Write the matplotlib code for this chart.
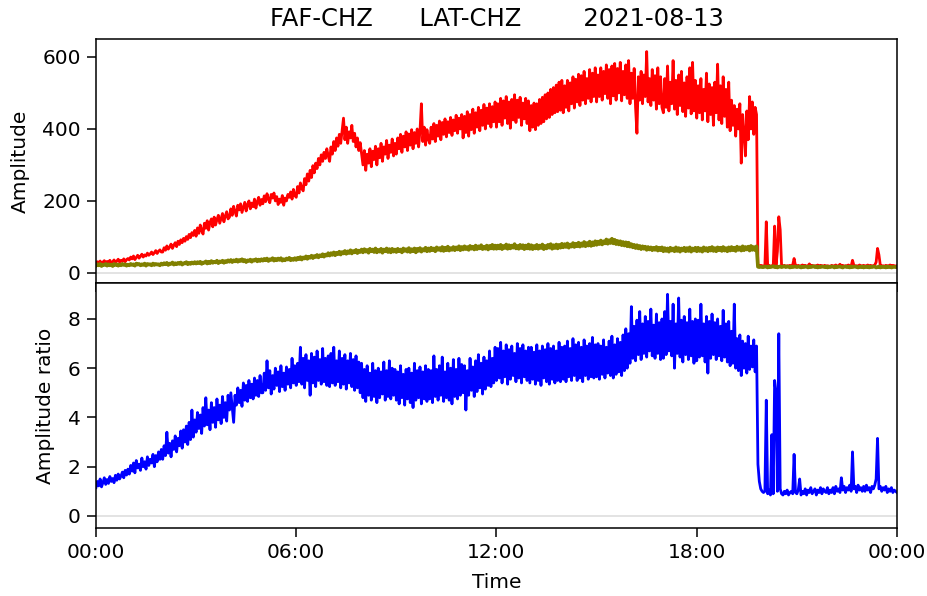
import matplotlib
matplotlib.use("Agg")
import matplotlib.pyplot as plt
import matplotlib.dates as mdates
import pandas as pd

# 2.5-minute samples, one row per hour (24 values), plus the final 00:00 sample
amp_faf = [
    25, 31, 28, 33, 24, 30, 34, 27, 32, 29, 35, 26, 31, 36, 29, 33, 38, 30, 35, 32, 39, 31, 37, 40,
    36, 44, 39, 47, 37, 43, 49, 41, 46, 52, 44, 50, 47, 55, 49, 53, 58, 51, 56, 62, 54, 60, 64, 58,
    58, 70, 63, 75, 66, 72, 80, 68, 77, 84, 73, 88, 79, 92, 84, 96, 88, 101, 93, 107, 98, 112, 104, 118,
    102, 125, 110, 133, 118, 108, 138, 124, 145, 119, 140, 150, 128, 155, 133, 148, 160, 138, 152, 165, 142, 158, 170, 150,
    155, 178, 160, 185, 170, 158, 188, 175, 192, 168, 182, 196, 172, 190, 200, 178, 194, 184, 205, 180, 198, 210, 188, 204,
    192, 214, 198, 220, 205, 195, 218, 208, 222, 200, 212, 190, 205, 196, 215, 188, 208, 200, 218, 210, 225, 205, 232, 215,
    210, 240, 222, 250, 235, 228, 262, 245, 275, 255, 285, 265, 298, 278, 305, 290, 318, 300, 328, 310, 335, 318, 345, 325,
    310, 350, 330, 365, 340, 375, 352, 385, 360, 395, 430, 370, 405, 360, 392, 375, 410, 365, 388, 350, 375, 340, 362, 330,
    300, 340, 285, 330, 305, 345, 295, 338, 315, 352, 300, 345, 320, 360, 310, 350, 330, 368, 318, 355, 335, 372, 325, 360,
    330, 375, 345, 385, 335, 380, 350, 392, 340, 386, 355, 398, 345, 390, 360, 400, 350, 395, 470, 365, 405, 355, 398, 372,
    360, 405, 372, 415, 365, 410, 380, 422, 370, 418, 385, 428, 378, 420, 390, 432, 382, 425, 395, 438, 388, 430, 400, 440,
    375, 435, 390, 448, 380, 440, 398, 455, 388, 445, 405, 460, 395, 452, 410, 468, 400, 458, 415, 470, 405, 462, 420, 475,
    405, 470, 420, 485, 410, 478, 430, 490, 415, 475, 402, 482, 425, 495, 418, 480, 432, 488, 410, 472, 428, 485, 415, 478,
    395, 465, 405, 472, 398, 470, 410, 482, 415, 488, 420, 495, 428, 500, 432, 510, 440, 515, 445, 522, 448, 530, 452, 535,
    445, 520, 460, 535, 450, 528, 470, 545, 458, 538, 475, 552, 465, 548, 480, 560, 470, 540, 485, 565, 475, 555, 490, 570,
    475, 550, 490, 570, 480, 560, 498, 578, 485, 565, 470, 575, 492, 582, 480, 568, 500, 585, 478, 560, 495, 578, 485, 590,
    470, 555, 485, 568, 460, 388, 545, 480, 560, 470, 550, 490, 615, 475, 540, 465, 565, 480, 548, 455, 570, 470, 545, 460,
    445, 540, 460, 575, 450, 530, 470, 590, 455, 535, 440, 550, 465, 560, 448, 528, 435, 545, 458, 570, 442, 585, 450, 535,
    430, 520, 445, 540, 425, 510, 450, 555, 420, 525, 440, 515, 410, 530, 445, 580, 425, 520, 415, 545, 435, 510, 405, 530,
    395, 480, 410, 465, 380, 455, 400, 470, 305, 440, 390, 325, 450, 370, 490, 400, 475, 385, 460, 440, 22, 19, 21, 20,
    18, 20, 142, 19, 21, 18, 20, 19, 130, 21, 60, 156, 120, 20, 19, 21, 18, 20, 19, 21, 18, 22, 40, 20,
    19, 21, 18, 20, 22, 19, 21, 18, 20, 25, 19, 21, 18, 20, 19, 22, 18, 21, 20, 19, 21, 18, 20, 19,
    18, 21, 19, 20, 22, 18, 20, 24, 19, 21, 18, 20, 19, 22, 20, 18, 35, 21, 19, 20, 18, 22, 20, 19,
    21, 19, 20, 22, 18, 21, 19, 20, 22, 30, 68, 50, 21, 19, 20, 18, 21, 19, 20, 22, 19, 21, 20, 19,
    20,
]

amp_lat = [
    20, 24, 21, 25, 19, 23, 22, 25, 20, 24, 21, 23, 19, 25, 22, 24, 20, 23, 21, 25, 22, 24, 20, 23,
    21, 25, 22, 24, 20, 26, 23, 25, 21, 24, 22, 26, 20, 25, 23, 24, 21, 26, 22, 25, 23, 24, 21, 26,
    23, 27, 24, 28, 22, 26, 25, 29, 23, 27, 24, 28, 25, 29, 23, 27, 26, 30, 24, 28, 25, 29, 26, 30,
    26, 30, 27, 31, 25, 29, 28, 32, 26, 31, 27, 33, 28, 31, 29, 34, 27, 32, 30, 34, 28, 33, 30, 35,
    31, 36, 30, 35, 32, 37, 31, 36, 33, 38, 32, 36, 30, 35, 33, 37, 31, 36, 34, 38, 32, 37, 33, 38,
    34, 39, 35, 40, 33, 38, 36, 41, 34, 39, 35, 40, 36, 41, 34, 38, 35, 40, 37, 42, 35, 39, 36, 41,
    36, 42, 38, 44, 37, 43, 40, 46, 39, 45, 42, 48, 41, 47, 44, 50, 43, 49, 46, 52, 45, 51, 48, 55,
    48, 55, 50, 57, 49, 56, 52, 59, 51, 58, 54, 61, 53, 60, 55, 63, 54, 61, 57, 64, 55, 62, 58, 65,
    57, 66, 59, 64, 56, 67, 60, 65, 58, 68, 57, 64, 59, 67, 56, 65, 60, 68, 58, 66, 57, 67, 59, 65,
    58, 67, 60, 65, 57, 68, 61, 66, 59, 69, 58, 66, 60, 68, 57, 67, 61, 69, 59, 66, 62, 70, 60, 68,
    61, 70, 63, 68, 60, 71, 64, 69, 62, 72, 61, 70, 63, 73, 62, 69, 64, 72, 63, 71, 65, 74, 63, 72,
    65, 74, 66, 72, 64, 75, 67, 73, 65, 76, 66, 74, 68, 77, 66, 73, 67, 76, 65, 75, 68, 78, 67, 76,
    67, 76, 68, 78, 66, 75, 69, 79, 67, 77, 68, 76, 70, 80, 68, 75, 67, 78, 69, 77, 66, 76, 68, 79,
    67, 77, 66, 75, 68, 78, 67, 76, 69, 79, 66, 75, 68, 78, 70, 80, 67, 77, 69, 79, 68, 78, 70, 81,
    71, 80, 72, 82, 70, 79, 73, 83, 72, 81, 74, 84, 73, 82, 75, 86, 74, 83, 76, 87, 75, 85, 77, 88,
    78, 87, 80, 90, 79, 88, 82, 93, 81, 91, 83, 95, 82, 92, 80, 89, 79, 88, 77, 86, 76, 85, 74, 84,
    73, 80, 71, 78, 69, 77, 68, 75, 66, 74, 67, 73, 64, 72, 65, 71, 63, 70, 64, 72, 62, 70, 63, 71,
    60, 69, 61, 68, 59, 70, 62, 68, 60, 71, 61, 69, 59, 68, 62, 70, 60, 69, 61, 71, 59, 68, 62, 70,
    60, 70, 61, 68, 59, 71, 62, 69, 60, 70, 62, 72, 61, 69, 60, 71, 63, 70, 61, 72, 62, 69, 60, 71,
    62, 72, 63, 70, 61, 73, 64, 71, 62, 74, 63, 72, 65, 73, 62, 75, 64, 72, 63, 74, 17, 16, 17, 16,
    16, 18, 17, 15, 18, 16, 17, 19, 16, 18, 15, 17, 18, 16, 17, 19, 16, 18, 17, 15, 18, 16, 17, 18,
    16, 17, 18, 15, 17, 16, 18, 17, 15, 18, 16, 17, 19, 16, 18, 15, 17, 16, 18, 17, 16, 18, 15, 17,
    16, 18, 17, 15, 18, 16, 17, 18, 16, 15, 17, 18, 16, 17, 15, 18, 16, 17, 18, 16, 15, 17, 16, 18,
    15, 17, 16, 18, 15, 17, 16, 18, 17, 15, 16, 18, 15, 17, 16, 17, 15, 18, 16, 17, 15, 16, 17, 16,
    16,
]

ratio = [
    1.15, 1.40, 1.22, 1.50, 1.18, 1.35, 1.55, 1.28, 1.48, 1.32, 1.60, 1.40, 1.52, 1.35, 1.65, 1.45, 1.70, 1.50, 1.62, 1.78, 1.55, 1.85, 1.66, 1.90,
    1.70, 2.05, 1.82, 2.15, 1.75, 2.25, 1.95, 2.10, 1.85, 2.35, 2.00, 2.20, 1.90, 2.40, 2.05, 2.30, 2.15, 2.50, 2.00, 2.45, 2.20, 2.60, 2.30, 2.70,
    2.30, 2.85, 2.45, 3.40, 2.55, 2.95, 2.40, 3.05, 2.70, 3.25, 2.60, 3.15, 2.85, 3.45, 2.75, 3.50, 3.00, 3.65, 2.90, 3.80, 3.10, 4.30, 3.20, 3.90,
    3.40, 4.20, 3.55, 4.10, 3.35, 4.40, 3.65, 4.80, 3.70, 4.30, 3.50, 4.60, 3.80, 4.40, 3.60, 4.75, 3.90, 4.50, 3.75, 4.85, 4.00, 4.60, 3.85, 4.90,
    4.30, 5.00, 4.40, 3.80, 4.90, 4.50, 5.20, 4.60, 5.10, 4.45, 5.40, 4.70, 5.30, 4.65, 5.50, 4.80, 5.35, 4.75, 5.60, 4.90, 5.50, 4.85, 5.70, 5.00,
    5.00, 5.80, 5.10, 6.30, 5.20, 5.90, 4.95, 5.70, 5.15, 6.00, 5.30, 5.85, 5.05, 6.10, 5.25, 5.80, 5.10, 6.05, 5.35, 5.95, 5.20, 6.40, 5.40, 6.10,
    5.30, 6.20, 5.45, 6.85, 5.35, 6.40, 5.20, 6.55, 5.50, 6.30, 4.90, 6.60, 5.40, 6.45, 5.25, 6.70, 5.50, 6.35, 5.35, 6.80, 5.45, 6.40, 5.30, 6.50,
    5.25, 6.60, 5.40, 6.85, 5.30, 6.30, 5.45, 6.70, 5.20, 6.40, 5.35, 6.55, 5.15, 6.30, 5.40, 6.60, 5.25, 6.35, 5.10, 6.50, 5.20, 6.25, 5.00, 6.20,
    4.80, 5.95, 4.65, 6.10, 4.90, 5.80, 4.70, 6.20, 4.85, 5.90, 4.60, 6.00, 4.80, 5.85, 4.95, 6.25, 4.70, 5.90, 4.85, 6.30, 4.75, 6.00, 4.90, 5.95,
    4.70, 5.85, 4.55, 6.10, 4.80, 5.75, 4.50, 5.95, 4.75, 6.00, 4.60, 5.80, 4.40, 6.20, 4.70, 5.90, 4.80, 6.05, 4.55, 5.85, 4.75, 6.10, 4.65, 5.95,
    4.75, 5.90, 4.60, 6.50, 4.85, 5.95, 4.70, 6.10, 4.90, 6.45, 4.65, 5.85, 4.80, 6.20, 4.70, 6.00, 4.55, 6.35, 4.85, 5.95, 4.75, 6.40, 4.90, 6.15,
    5.00, 6.10, 4.30, 5.90, 4.90, 6.40, 5.10, 6.05, 4.85, 6.30, 5.05, 6.55, 5.20, 6.20, 4.95, 6.45, 5.15, 6.30, 5.30, 6.70, 5.25, 6.40, 5.40, 6.85,
    5.50, 6.80, 5.60, 7.05, 5.40, 6.70, 5.65, 6.95, 5.35, 6.75, 5.55, 6.90, 5.70, 6.60, 5.45, 7.00, 5.60, 6.80, 5.40, 6.95, 5.65, 6.70, 5.50, 6.85,
    5.40, 6.85, 5.55, 6.65, 5.35, 6.95, 5.50, 6.70, 5.30, 6.90, 5.60, 6.75, 5.45, 7.00, 5.35, 6.80, 5.55, 6.90, 5.40, 6.70, 5.50, 7.05, 5.45, 6.85,
    5.55, 6.90, 5.45, 7.10, 5.65, 6.80, 5.50, 7.20, 5.70, 6.95, 5.50, 7.05, 5.60, 6.85, 5.45, 7.15, 5.70, 6.90, 5.55, 7.00, 5.65, 7.25, 5.60, 6.95,
    5.65, 7.00, 5.55, 6.90, 5.75, 7.15, 5.60, 6.85, 5.80, 7.10, 5.70, 7.30, 5.60, 6.95, 5.75, 7.20, 5.85, 7.05, 5.70, 7.35, 5.90, 7.60, 6.00, 7.40,
    6.20, 8.50, 6.40, 7.70, 6.30, 7.95, 6.55, 8.30, 6.35, 7.80, 6.60, 8.10, 6.45, 7.90, 6.70, 8.40, 6.50, 7.75, 6.40, 8.20, 6.60, 7.85, 6.35, 8.00,
    6.40, 8.30, 6.55, 9.00, 6.70, 7.90, 6.50, 8.60, 6.00, 7.80, 6.60, 8.85, 6.45, 7.95, 6.25, 8.10, 6.55, 7.85, 6.35, 8.40, 6.50, 7.90, 6.20, 8.00,
    6.30, 7.95, 6.45, 8.60, 6.50, 7.80, 6.25, 8.10, 5.80, 7.90, 6.40, 8.20, 6.55, 7.85, 6.35, 8.00, 6.50, 7.70, 6.30, 8.35, 6.45, 7.80, 6.25, 7.90,
    6.10, 7.50, 6.20, 8.60, 6.00, 7.20, 5.90, 7.35, 5.70, 7.10, 6.00, 7.00, 5.80, 7.30, 5.95, 6.90, 6.05, 7.15, 5.85, 6.90, 2.10, 1.40, 1.10, 1.00,
    0.95, 1.00, 4.70, 0.90, 1.05, 0.85, 3.30, 0.90, 5.50, 5.00, 1.00, 7.40, 1.10, 0.90, 0.85, 1.00, 0.90, 1.05, 0.85, 0.95, 1.00, 0.90, 2.50, 0.95,
    0.90, 1.05, 1.50, 0.85, 1.00, 0.90, 1.10, 0.85, 1.05, 0.95, 1.15, 0.90, 1.00, 1.10, 0.85, 1.05, 0.95, 1.15, 0.90, 1.10, 1.00, 0.95, 1.15, 0.90,
    1.05, 0.95, 1.15, 0.90, 1.20, 1.00, 1.10, 0.95, 1.55, 1.05, 1.20, 0.95, 1.15, 1.05, 1.25, 1.00, 2.60, 1.10, 1.20, 0.95, 1.25, 1.05, 1.15, 1.00,
    1.20, 1.00, 1.25, 1.05, 1.15, 0.95, 1.20, 1.10, 1.25, 1.50, 3.15, 1.10, 1.20, 1.00, 1.15, 1.05, 1.20, 0.95, 1.10, 1.00, 1.15, 0.95, 1.05, 1.00,
    0.95,
]

title = "FAF-CHZ      LAT-CHZ        2021-08-13"

times = pd.date_range("2021-08-13 00:00", periods=len(ratio), freq="150s")

fig = plt.figure(figsize=(9.28, 5.96), dpi=100)
ax1 = fig.add_axes([0.1034, 0.5252, 0.8632, 0.4094])
ax2 = fig.add_axes([0.1034, 0.1141, 0.8632, 0.4111], sharex=ax1)

lw = 2.0

ax1.axhline(0, color="0.87", lw=1.2, zorder=1)
ax1.plot(times, amp_faf, color="red", lw=lw)
ax1.plot(times, amp_lat, color="olive", lw=2.6)
ax1.set_ylim(-28, 650)
ax1.set_yticks([0, 200, 400, 600])
ax1.set_ylabel("Amplitude", fontsize=14.5, labelpad=9)
ax1.set_title(title, fontsize=17.5, pad=9)
ax1.tick_params(axis="x", length=0, labelbottom=False)

ax2.axhline(0, color="0.87", lw=1.2, zorder=1)
ax2.plot(times, ratio, color="blue", lw=lw)
ax2.set_ylim(-0.49, 9.46)
ax2.set_yticks([0, 2, 4, 6, 8])
ax2.set_ylabel("Amplitude ratio", fontsize=14.5, labelpad=9)
ax2.set_xlabel("Time", fontsize=14.5, labelpad=8)

ax2.set_xlim(times[0], times[-1])
ax2.xaxis.set_major_locator(mdates.HourLocator(byhour=[0, 6, 12, 18]))
ax2.xaxis.set_major_formatter(mdates.DateFormatter("%H:%M"))

for ax in (ax1, ax2):
    ax.tick_params(labelsize=14.5, length=6.5, width=1.1, pad=4.5)
    for s in ax.spines.values():
        s.set_linewidth(1.1)

fig.savefig("out.png", dpi=100)
